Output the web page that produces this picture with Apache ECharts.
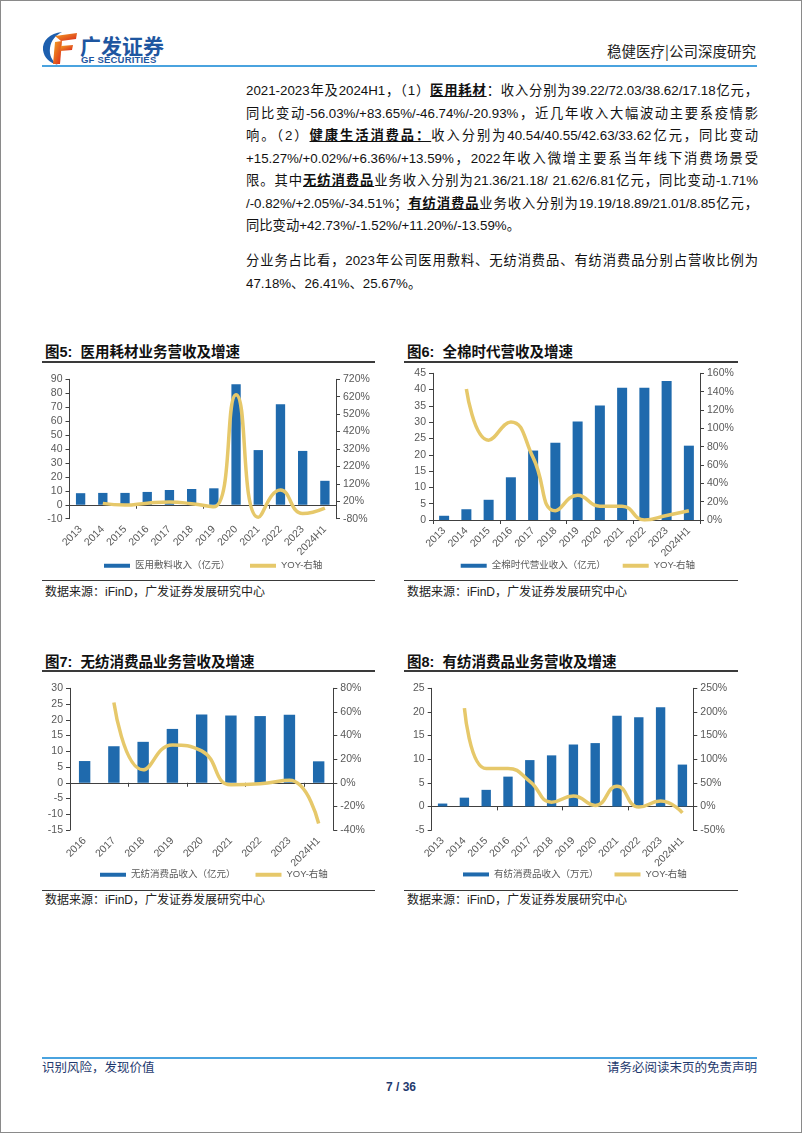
<!DOCTYPE html>
<html><head><meta charset="utf-8">
<script src="https://cdn.jsdelivr.net/npm/echarts@6/dist/echarts.min.js"></script>
<style>
html,body{margin:0;padding:0;background:#fff;}
#page{position:relative;width:802px;height:1133px;overflow:hidden;background:#fff;font-family:"Liberation Sans","Noto Sans CJK SC",sans-serif;}
.frame{position:absolute;left:0;top:0;width:802px;height:1133px;box-sizing:border-box;border:1px solid #8a8a8a;}
.ln{position:absolute;}
.row{position:absolute;left:246px;width:512px;font-size:13.3px;line-height:20px;height:20px;white-space:nowrap;text-align:justify;text-align-last:justify;color:#111;}
.row.last{text-align-last:left;}
.row b{font-weight:bold;text-decoration:underline;}
.ctitle{position:absolute;font-size:14.5px;font-weight:bold;line-height:20px;color:#111;white-space:nowrap;}
.src{position:absolute;font-size:12px;line-height:16px;color:#222;white-space:nowrap;}
.chart{position:absolute;}
.txt{position:absolute;white-space:nowrap;}
</style></head>
<body>
<div id="page">
  <div class="frame"></div>
  <!-- header -->
  <svg class="ln" style="left:41px;top:30px" width="38" height="36" viewBox="0 0 38 36">
    <defs><linearGradient id="gf" x1="0" y1="0" x2="1" y2="1"><stop offset="0" stop-color="#f5a623"/><stop offset="1" stop-color="#d8261c"/></linearGradient></defs>
    <path d="M21 2 C9 3 1 11 2 20 C3 28 9 33 17 35 C11 31 8 25 9 18 C10 10 15 5 21 2 Z" fill="#1d5fae"/>
    <path d="M14 6 L36 3 L35 9 L20 11 Z" fill="url(#gf)"/>
    <path d="M14 12 L21 11 L19 34 L12 34 Z" fill="url(#gf)"/>
    <path d="M20 16 L32 15 L31 20 L19 21 Z" fill="url(#gf)"/>
  </svg>
  <div class="txt" style="left:80px;top:33px;font-size:21px;line-height:24px;font-weight:bold;color:#1e56a0;font-family:'Noto Sans CJK SC'">广发证券</div>
  <div class="txt" style="left:81px;top:55px;font-size:9.5px;line-height:10px;font-weight:bold;color:#1e56a0;letter-spacing:0.2px">GF SECURITIES</div>
  <div class="txt" style="left:607px;top:42px;font-size:14.5px;line-height:18px;color:#222;font-family:'Noto Sans CJK SC'">稳健医疗|公司深度研究</div>
  <div class="ln" style="left:42px;top:65px;width:715px;height:1.5px;background:#4aa3df"></div>

  <!-- body text -->
  <div class="row" style="top:81px">2021-2023年及2024H1，（1）<b>医用耗材</b>：收入分别为39.22/72.03/38.62/17.18亿元，</div>
  <div class="row" style="top:103.5px">同比变动-56.03%/+83.65%/-46.74%/-20.93%，近几年收入大幅波动主要系疫情影</div>
  <div class="row" style="top:126px">响。（2）<b>健康生活消费品：</b>收入分别为40.54/40.55/42.63/33.62亿元，同比变动</div>
  <div class="row" style="top:148.5px">+15.27%/+0.02%/+6.36%/+13.59%，2022年收入微增主要系当年线下消费场景受</div>
  <div class="row" style="top:171px">限。其中<b>无纺消费品</b>业务收入分别为21.36/21.18/ 21.62/6.81亿元，同比变动-1.71%</div>
  <div class="row" style="top:193.5px">/-0.82%/+2.05%/-34.51%；<b>有纺消费品</b>业务收入分别为19.19/18.89/21.01/8.85亿元，</div>
  <div class="row last" style="top:216px">同比变动+42.73%/-1.52%/+11.20%/-13.59%。</div>
  <div class="row" style="top:251px">分业务占比看，2023年公司医用敷料、无纺消费品、有纺消费品分别占营收比例为</div>
  <div class="row last" style="top:273.5px">47.18%、26.41%、25.67%。</div>

  <!-- chart panels -->
  <div class="ctitle" style="left:45px;top:342px">图5:&nbsp;&nbsp;医用耗材业务营收及增速</div>
  <div class="ln" style="left:42px;top:361px;width:333px;height:1.5px;background:#3a3a3a"></div>
  <div class="chart" id="c5" style="left:30px;top:368px;width:360px;height:210px"></div>
  <div class="ln" style="left:42px;top:580px;width:333px;height:1px;background:#3a3a3a"></div>
  <div class="src" style="left:45px;top:584px">数据来源：iFinD，广发证券发展研究中心</div>

  <div class="ctitle" style="left:407px;top:342px">图6:&nbsp;&nbsp;全棉时代营收及增速</div>
  <div class="ln" style="left:404px;top:361px;width:334px;height:1.5px;background:#3a3a3a"></div>
  <div class="chart" id="c6" style="left:395px;top:362px;width:350px;height:216px"></div>
  <div class="ln" style="left:404px;top:580px;width:334px;height:1px;background:#3a3a3a"></div>
  <div class="src" style="left:407px;top:584px">数据来源：iFinD，广发证券发展研究中心</div>

  <div class="ctitle" style="left:45px;top:652px">图7:&nbsp;&nbsp;无纺消费品业务营收及增速</div>
  <div class="ln" style="left:42px;top:670px;width:333px;height:1.5px;background:#3a3a3a"></div>
  <div class="chart" id="c7" style="left:30px;top:677px;width:360px;height:210px"></div>
  <div class="ln" style="left:42px;top:890px;width:333px;height:1px;background:#3a3a3a"></div>
  <div class="src" style="left:45px;top:892px">数据来源：iFinD，广发证券发展研究中心</div>

  <div class="ctitle" style="left:407px;top:652px">图8:&nbsp;&nbsp;有纺消费品业务营收及增速</div>
  <div class="ln" style="left:404px;top:670px;width:334px;height:1.5px;background:#3a3a3a"></div>
  <div class="chart" id="c8" style="left:395px;top:677px;width:350px;height:210px"></div>
  <div class="ln" style="left:404px;top:890px;width:334px;height:1px;background:#3a3a3a"></div>
  <div class="src" style="left:407px;top:892px">数据来源：iFinD，广发证券发展研究中心</div>

  <!-- footer -->
  <div class="ln" style="left:42px;top:1057px;width:715px;height:1.5px;background:#4aa3df"></div>
  <div class="txt" style="left:42px;top:1059px;font-size:12.5px;line-height:16px;color:#1f3a6e;font-family:'Noto Sans CJK SC'">识别风险，发现价值</div>
  <div class="txt" style="left:605px;top:1059px;width:152px;text-align:right;font-size:12.5px;line-height:16px;color:#1f3a6e;font-family:'Noto Sans CJK SC'">请务必阅读末页的免责声明</div>
  <div class="txt" style="left:371px;top:1079px;width:60px;text-align:center;font-size:12px;line-height:16px;font-weight:bold;color:#1f3a6e">7 / 36</div>
</div>
<script>
// ---------------- data ----------------
const years12 = ['2013','2014','2015','2016','2017','2018','2019','2020','2021','2022','2023','2024H1'];
const years9 = ['2016','2017','2018','2019','2020','2021','2022','2023','2024H1'];

const medRevenue = [8.3, 8.5, 8.5, 9.2, 10.6, 11.3, 11.8, 86.5, 39.22, 72.03, 38.62, 17.18];
const medYoy = [null, 8, -2, 9, 16, 6, -12, 632, -72, 85, -50, -19];

const cottonRevenue = [1.3, 3.3, 6.2, 13.1, 21.3, 23.7, 30.2, 35.1, 40.54, 40.55, 42.63, 22.8];
const cottonYoy = [null, 143, 87, 107, 68, 10, 27, 15, 15, 0, 5, 10];

const nonwovenRevenue = [6.9, 11.6, 13.0, 17.1, 21.7, 21.36, 21.18, 21.62, 6.81];
const nonwovenYoy = [null, 68, 11, 32, 27, -1.71, -0.82, 2.05, -34.51];

const wovenRevenue = [0.6, 1.85, 3.5, 6.3, 9.8, 10.8, 13.1, 13.4, 19.19, 18.89, 21.01, 8.85];
const wovenYoy = [null, 208, 80, 80, 53, 9, 22, 2, 42.73, -1.52, 11.2, -13.59];

const yoyName = 'YOY-右轴';

// ---------------- styles ----------------
const BAR = '#1f6aad';
const LINE = '#e6c86a';
const AXIS = '#404040';
const LBL = '#595959';
const FONT = '"Liberation Sans","Noto Sans CJK SC",sans-serif';

function build(o) {
  return {
    animation: false,
    grid: { left: o.gl, top: o.gt, width: o.gw, height: o.gh, containLabel: false },
    legend: {
      left: o.ll, top: o.lt, padding: 0, itemWidth: 26, itemHeight: 4, itemGap: o.lg,
      textStyle: { fontSize: 9.5, color: LBL, fontFamily: FONT },
      data: [{ name: o.barName, icon: 'rect' }, { name: yoyName, icon: 'rect' }]
    },
    xAxis: [
      { type: 'category', data: o.cats,
        axisLine: { show: true, onZero: true, onZeroAxisIndex: 0, lineStyle: { color: AXIS, width: 1 } },
        axisTick: { show: true, length: 4, lineStyle: { color: AXIS } },
        axisLabel: { show: false } },
      { type: 'category', data: o.cats, position: 'bottom',
        axisLine: { show: false, onZero: false }, axisTick: { show: false },
        axisLabel: { rotate: 45, margin: 9, fontSize: 10.5, color: LBL, fontFamily: FONT, interval: 0 } }
    ],
    yAxis: [
      { type: 'value', min: o.lmin, max: o.lmax, interval: o.lint,
        axisLine: { show: true, lineStyle: { color: AXIS, width: 1 } },
        axisTick: { show: true, length: 4, lineStyle: { color: AXIS } },
        splitLine: { show: false },
        axisLabel: { margin: 7, fontSize: 10.5, color: LBL, fontFamily: FONT } },
      { type: 'value', position: 'right', min: o.rmin, max: o.rmax, interval: o.rint,
        axisLine: { show: true, lineStyle: { color: AXIS, width: 1 } },
        axisTick: { show: true, length: 4, lineStyle: { color: AXIS } },
        splitLine: { show: false },
        axisLabel: { margin: 7, fontSize: 10.5, color: LBL, fontFamily: FONT, formatter: v => v + '%' } }
    ],
    series: [
      { type: 'bar', name: o.barName, data: o.bars, xAxisIndex: 0, yAxisIndex: 0,
        barWidth: o.bw, itemStyle: { color: BAR } },
      { type: 'line', name: yoyName, data: o.yoy.map(v => v === null ? '-' : v), xAxisIndex: 0, yAxisIndex: 1,
        smooth: true, symbol: 'none', lineStyle: { color: LINE, width: 3.5 }, itemStyle: { color: LINE } }
    ]
  };
}

function draw(id, o) {
  const c = echarts.init(document.getElementById(id), null, { renderer: 'canvas' });
  c.setOption(build(o));
}

draw('c5', { cats: years12, bars: medRevenue, yoy: medYoy, barName: '医用敷料收入（亿元）',
  gl: 39.5, gt: 11.3, gw: 266.5, gh: 139.4, ll: 74, lt: 193, lg: 20, bw: '42%',
  lmin: -10, lmax: 90, lint: 10, rmin: -80, rmax: 720, rint: 100 });

draw('c6', { cats: years12, bars: cottonRevenue, yoy: cottonYoy, barName: '全棉时代营业收入（亿元）',
  gl: 38, gt: 11.3, gw: 267, gh: 146.7, ll: 65.7, lt: 199, lg: 17, bw: '45%',
  lmin: 0, lmax: 45, lint: 5, rmin: 0, rmax: 160, rint: 20 });

draw('c7', { cats: years9, bars: nonwovenRevenue, yoy: nonwovenYoy, barName: '无纺消费品收入（亿元）',
  gl: 40, gt: 11.3, gw: 263.3, gh: 141.7, ll: 70, lt: 193, lg: 20, bw: '39%',
  lmin: -15, lmax: 30, lint: 5, rmin: -40, rmax: 80, rint: 20 });

draw('c8', { cats: years12, bars: wovenRevenue, yoy: wovenYoy, barName: '有纺消费品收入（万元）',
  gl: 36.7, gt: 11.3, gw: 261.6, gh: 141.7, ll: 68, lt: 192.7, lg: 16, bw: '43%',
  lmin: -5, lmax: 25, lint: 5, rmin: -50, rmax: 250, rint: 50 });
</script>
</body></html>
